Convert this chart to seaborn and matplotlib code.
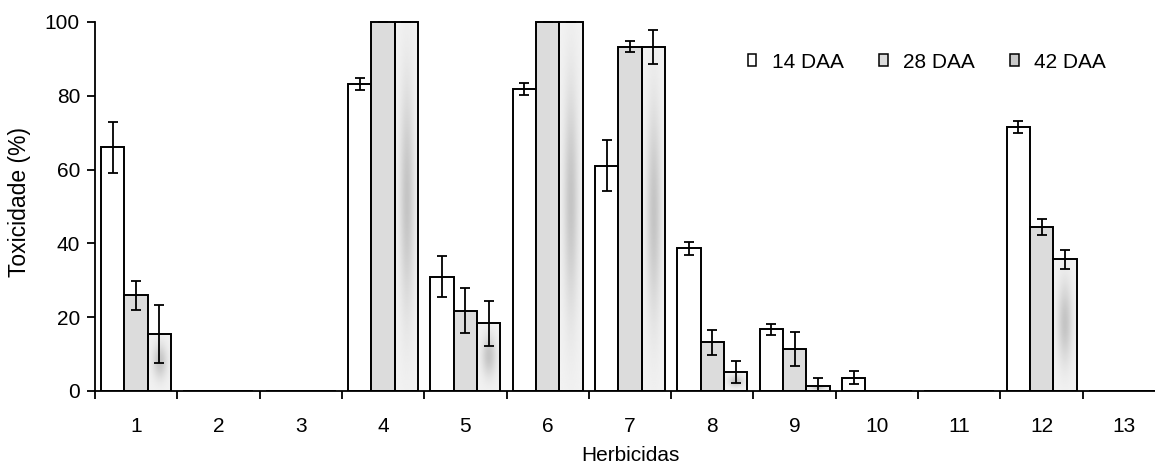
import matplotlib
matplotlib.use("Agg")
import matplotlib.pyplot as plt
import matplotlib.ticker as mtick
from matplotlib.patches import Patch
import numpy as np
import pandas as pd
import seaborn as sns

herbicidas = [str(i) for i in range(1, 14)]
periodos = ["14 DAA", "28 DAA", "42 DAA"]

# mean toxicity (%) per herbicide
tox_14 = [66.0, 0, 0, 83.2, 31.0, 81.8, 61.0, 38.7, 16.7, 3.6, 0, 71.6, 0]
tox_28 = [25.9, 0, 0, 100, 21.8, 100, 93.3, 13.2, 11.3, 0, 0, 44.5, 0]
tox_42 = [15.4, 0, 0, 100, 18.3, 100, 93.3, 5.1, 1.4, 0, 0, 35.7, 0]

# error bar half-lengths
err_14 = [7.0, 0, 0, 1.5, 5.6, 1.6, 6.9, 1.8, 1.5, 1.8, 0, 1.6, 0]
err_28 = [4.0, 0, 0, 0, 6.2, 0, 1.5, 3.4, 4.6, 0, 0, 2.2, 0]
err_42 = [7.8, 0, 0, 0, 6.0, 0, 4.6, 3.0, 2.2, 0, 0, 2.6, 0]

df = pd.DataFrame(
    {
        "Herbicidas": herbicidas * 3,
        "Periodo": np.repeat(periodos, len(herbicidas)),
        "Toxicidade": tox_14 + tox_28 + tox_42,
    }
)

sns.set_style("ticks")
plt.rcParams["font.family"] = ["Liberation Sans", "DejaVu Sans"]
plt.rcParams["font.size"] = 15
for k in ["text.color", "axes.labelcolor", "xtick.color", "ytick.color", "axes.edgecolor"]:
    plt.rcParams[k] = "black"

FS = 15

fig = plt.figure(figsize=(11.55, 4.66), dpi=100)
ax = fig.add_axes([95 / 1155, 75 / 466, 1070 / 1155, 372.7 / 466])

sns.barplot(
    data=df,
    x="Herbicidas",
    y="Toxicidade",
    hue="Periodo",
    order=herbicidas,
    hue_order=periodos,
    palette=["white", "#dcdcdc", "#f2f2f2"],
    saturation=1,
    width=0.85,
    edgecolor="black",
    linewidth=1.4,
    errorbar=None,
    legend=False,
    ax=ax,
)

# shaded look of the 42 DAA bars
u = np.linspace(-1, 1, 60)
v = np.linspace(0, 1, 120)
U, V = np.meshgrid(u, v)
shade = 0.95 - 0.18 * np.exp(-((U / 0.6) ** 2)) * np.exp(-(((V - 0.52) / 0.3) ** 2))
for bar in ax.containers[2]:
    h = bar.get_height()
    if h <= 0:
        continue
    x0, w = bar.get_x(), bar.get_width()
    ax.imshow(
        shade,
        extent=[x0, x0 + w, 0, h],
        origin="lower",
        cmap="gray",
        vmin=0,
        vmax=1,
        aspect="auto",
        interpolation="bilinear",
        zorder=bar.get_zorder() - 0.1,
    )
    bar.set_facecolor("none")

for cont, errs in zip(ax.containers, [err_14, err_28, err_42]):
    for bar, e in zip(cont, errs):
        h = bar.get_height()
        if h <= 0:
            continue
        ax.errorbar(
            bar.get_x() + bar.get_width() / 2,
            h,
            yerr=e,
            fmt="none",
            ecolor="black",
            elinewidth=1.3,
            capsize=3.8,
            capthick=1.3,
            zorder=5,
        )

ax.set_xlim(-0.5, 12.5)
ax.set_ylim(0, 101)
sns.despine(ax=ax)
ax.spines["left"].set_bounds(0, 100)
for s in ["left", "bottom"]:
    ax.spines[s].set_linewidth(1.3)

ax.set_yticks([0, 20, 40, 60, 80, 100])
ax.xaxis.set_major_locator(mtick.FixedLocator(np.arange(-0.5, 13, 1)))
ax.xaxis.set_major_formatter(mtick.NullFormatter())
ax.xaxis.set_minor_locator(mtick.FixedLocator(np.arange(len(herbicidas))))
ax.xaxis.set_minor_formatter(mtick.FixedFormatter(herbicidas))
ax.tick_params(axis="x", which="major", length=5.5, width=1.3)
ax.tick_params(axis="x", which="minor", length=0, pad=19, labelsize=FS)
ax.tick_params(axis="y", length=5.8, width=1.3, pad=5, labelsize=FS)

ax.set_xlabel("Herbicidas", fontsize=FS, va="top")
ax.xaxis.set_label_coords(0.5, -0.1476)
ax.set_ylabel("Toxicidade (%)", fontsize=16.5)
ax.yaxis.set_label_coords(-0.06, 0.507)

handles = [
    Patch(facecolor=c, edgecolor="black", linewidth=1.1)
    for c in ["white", "#dcdcdc", "#c8c8c8"]
]
fig.legend(
    handles,
    periodos,
    loc="center left",
    bbox_to_anchor=(748 / 1155, 1 - 62 / 466),
    ncol=3,
    frameon=False,
    handlelength=0.4,
    handleheight=0.55,
    handletextpad=0.75,
    columnspacing=1.7,
    borderpad=0,
    borderaxespad=0,
    fontsize=FS,
)

fig.savefig("out.png", dpi=100)
